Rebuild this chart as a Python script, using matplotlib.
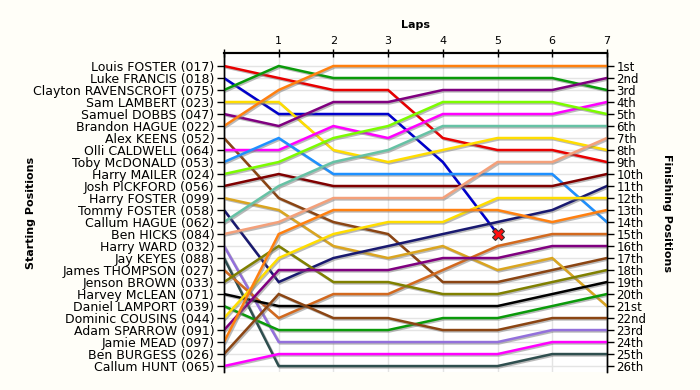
import matplotlib
matplotlib.use("Agg")
import matplotlib.pyplot as plt
import matplotlib.patheffects as pe

# starting grid, top to bottom
drivers = [
    "Louis FOSTER (017)", "Luke FRANCIS (018)", "Clayton RAVENSCROFT (075)",
    "Sam LAMBERT (023)", "Samuel DOBBS (047)", "Brandon HAGUE (022)",
    "Alex KEENS (052)", "Olli CALDWELL (064)", "Toby McDONALD (053)",
    "Harry MAILER (024)", "Josh PICKFORD (056)", "Harry FOSTER (099)",
    "Tommy FOSTER (058)", "Callum HAGUE (062)", "Ben HICKS (084)",
    "Harry WARD (032)", "Jay KEYES (088)", "James THOMPSON (027)",
    "Jenson BROWN (033)", "Harvey McLEAN (071)", "Daniel LAMPORT (039)",
    "Dominic COUSINS (044)", "Adam SPARROW (091)", "Jamie MEAD (097)",
    "Ben BURGESS (026)", "Callum HUNT (065)",
]

# position after each lap (lap 0 = grid)
lap_positions = [
    [1, 2, 3, 3, 7, 8, 8, 9],
    [2, 5, 5, 5, 9, 15],          # retired on lap 5
    [3, 1, 2, 2, 2, 2, 2, 3],
    [4, 4, 8, 9, 8, 7, 7, 8],
    [5, 6, 4, 4, 3, 3, 3, 2],
    [6, 3, 1, 1, 1, 1, 1, 1],
    [7, 12, 14, 15, 19, 19, 18, 17],
    [8, 8, 6, 7, 5, 5, 5, 4],
    [9, 7, 10, 10, 10, 10, 10, 14],
    [10, 9, 7, 6, 4, 4, 4, 5],
    [11, 10, 11, 11, 11, 11, 11, 10],
    [12, 13, 16, 17, 16, 18, 17, 21],
    [13, 19, 17, 16, 15, 14, 13, 11],
    [14, 11, 9, 8, 6, 6, 6, 6],
    [15, 14, 12, 12, 12, 9, 9, 7],
    [16, 24, 24, 24, 24, 24, 23, 23],
    [17, 26, 26, 26, 26, 26, 25, 25],
    [18, 22, 20, 20, 18, 16, 15, 15],
    [19, 16, 19, 19, 20, 20, 19, 18],
    [20, 21, 21, 21, 21, 21, 20, 19],
    [21, 23, 23, 23, 22, 22, 21, 20],
    [22, 17, 15, 14, 14, 12, 12, 12],
    [23, 18, 18, 18, 17, 17, 16, 16],
    [24, 15, 13, 13, 13, 13, 14, 13],
    [25, 20, 22, 22, 23, 23, 22, 22],
    [26, 25, 25, 25, 25, 25, 24, 24],
]

colors = [
    "#e80000", "#0000cc", "#0a9a0a", "#ffdd00", "#800080", "#ff8010",
    "#8b4513", "#ff00ff", "#1e90ff", "#7cfc00", "#800000", "#daa520",
    "#191970", "#66c2a5", "#f4a07a", "#9370db", "#2f4f4f", "#d2691e",
    "#808000", "#000000", "#0a9a0a", "#ffdd00", "#800080", "#ff8010",
    "#8b4513", "#ff00ff",
]

laps = list(range(8))
lap_labels = ["", "1", "2", "3", "4", "5", "6", "7"]
finish_labels = ["1st", "2nd", "3rd"] + [f"{i}th" for i in range(4, 21)] + \
    ["21st", "22nd", "23rd", "24th", "25th", "26th"]

fig = plt.figure(figsize=(7, 3.9), dpi=100, facecolor="#fffef8")
ax = fig.add_axes([0.32, 0.046, 0.547, 0.818])
ax.set_facecolor("white")

shadow = [pe.SimpleLineShadow(offset=(1, -1), shadow_color="#777777", alpha=0.5), pe.Normal()]

for pos, col in zip(lap_positions, colors):
    ax.plot(laps[:len(pos)], pos, color=col, lw=1.8, solid_joinstyle="miter",
            path_effects=shadow, zorder=3)

# retirement marker
ret = lap_positions[1]
ax.plot(len(ret) - 1, ret[-1], marker="X", ms=9, mfc="#ff1010", mec="#333333",
        mew=0.8, zorder=5)

n = len(drivers)
ax.set_xlim(0, 7)
ax.set_ylim(n + 0.5, -0.08)

ax.xaxis.tick_top()
ax.set_xticks(laps)
ax.set_xticklabels(lap_labels, fontsize=8)
ax.tick_params(axis="x", direction="inout", length=6, width=1, pad=2)
ax.xaxis.set_label_position("top")
ax.set_xlabel("Laps", fontsize=8, fontweight="bold", labelpad=6)

ax.set_yticks(range(1, n + 1))
ax.set_yticklabels(drivers, fontsize=9)
ax.tick_params(axis="y", direction="out", length=5, width=1, pad=2)
ax.set_ylabel("Starting Positions", fontsize=8, fontweight="bold")
ax.yaxis.set_label_coords(-0.49, 0.5)

ax2 = ax.twinx()
ax2.set_ylim(ax.get_ylim())
ax2.set_yticks(range(1, n + 1))
ax2.set_yticklabels(finish_labels, fontsize=8.5)
ax2.tick_params(axis="y", direction="out", length=5, width=1, pad=2)
ax2.set_ylabel("Finishing Positions", fontsize=8, fontweight="bold", rotation=270)
ax2.yaxis.set_label_coords(1.17, 0.5)

ax.grid(True, color="#e4e4e4", lw=1, zorder=0)
ax.set_axisbelow(True)

for a in (ax, ax2):
    a.spines["bottom"].set_visible(False)
    for s in ("left", "right"):
        a.spines[s].set_linewidth(1)
    a.spines["top"].set_linewidth(1.5)

fig.savefig("out.png", dpi=100, facecolor=fig.get_facecolor())
